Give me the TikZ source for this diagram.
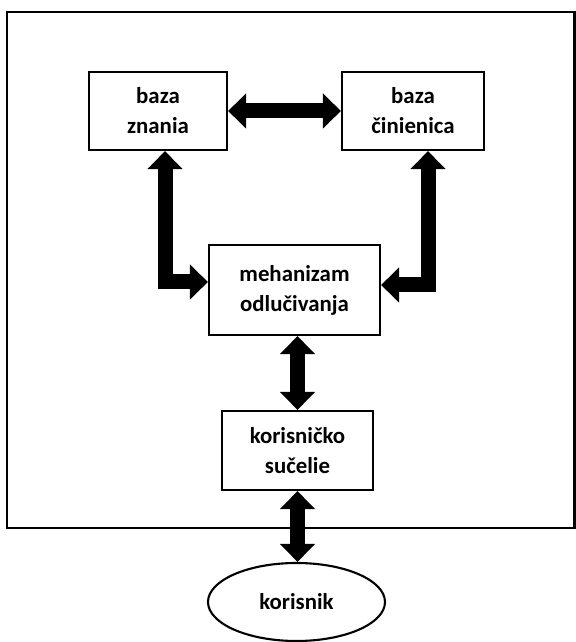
\documentclass[tikz,border=0pt]{standalone}
\usepackage{fontspec}
\setmainfont{Carlito}
\usepackage{tikz}
\usetikzlibrary{calc}
\usetikzlibrary{arrows.meta,shapes.geometric}
\tikzset{
    box/.style={draw,line width=1.2pt,align=center,minimum width=#1,
        minimum height=1.56cm,inner sep=0pt},
    fat/.style={line width=0.3cm,line join=miter,
        >={Triangle[width=0.68cm,length=0.36cm]},<->}
}

\begin{document}
\begin{tikzpicture}[font=\fontsize{13}{17}\selectfont\bfseries]
    \useasboundingbox (0,0) rectangle (11.52,12.84);
    \draw[line width=1.2pt] (0.14,2.28) rectangle (11.49,12.6);
    %
    \node[box=2.76cm] (zn) at (3.16,10.62) {baza\\znania};
    \node[box=2.84cm] (ci) at (8.26,10.62) {baza\\činienica};
    \node[box=3.42cm,minimum height=1.8cm] (mo) at (5.89,7.04) {mehanizam\\odlučivanja};
    \node[box=3.02cm,minimum height=1.58cm] (ks) at (5.95,3.83) {korisničko\\sučelie};
    \node[draw,line width=1.2pt,ellipse,minimum width=3.54cm,minimum height=1.56cm,
        inner sep=0pt] (ko) at (5.93,0.8) {korisnik};
    %
    \draw[fat] (zn.east) -- (ci.west);
    \draw[fat] ($(zn.south)+(0.14,0)$) |- ($(mo.west)+(0,0.16)$);
    \draw[fat] ($(ci.south)+(0.3,0)$) |- ($(mo.east)+(0,0.1)$);
    \draw[fat] (mo.south -| ks.north) -- (ks.north);
    \draw[fat] (ks.south) -- (ks.south |- ko.north);
\end{tikzpicture}
\end{document}
